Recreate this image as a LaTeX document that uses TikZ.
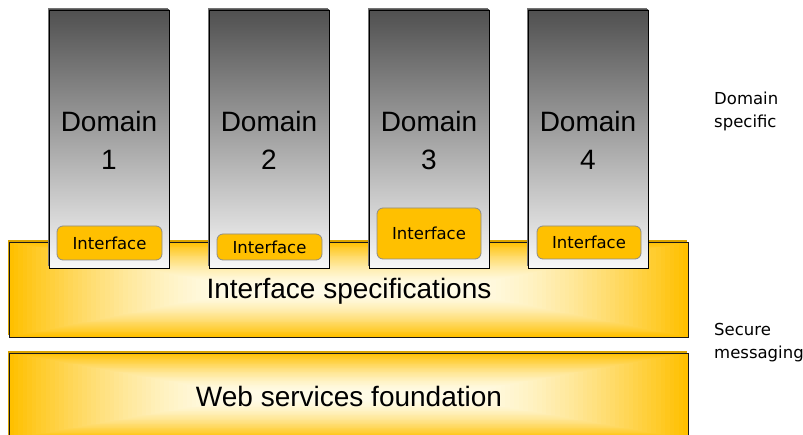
\documentclass[tikz,border=0pt]{standalone}
\usepackage{fontspec}
\setmainfont{Liberation Sans}
\newfontfamily\verd{DejaVu Sans}
\definecolor{gold}{HTML}{FFC000}
\definecolor{goldlight}{HTML}{FFFBE6}
\definecolor{goldshadow}{HTML}{D9A300}
\definecolor{coltop}{HTML}{505050}
\definecolor{colbot}{HTML}{F8F8F8}
\newcommand{\layergrad}[4]{%
  \foreach \k in {0,...,48}{%
    \pgfmathsetmacro{\tt}{\k/48}%
    \pgfmathsetmacro{\hw}{#3-\tt*(#3-120)}%
    \pgfmathsetmacro{\hh}{#4-\tt*(#4-4)}%
    \pgfmathsetmacro{\pp}{100*(1-\tt)^1.5}%
    \fill[gold!\pp!goldlight] (#1-\hw,#2-\hh) rectangle (#1+\hw,#2+\hh);
  }}
\tikzset{
  colbox/.style={draw=black, line width=0.8pt, inner sep=0pt, minimum width=120pt, minimum height=258pt,
    top color=coltop, bottom color=colbot},
  colshadow/.style={fill=black!55, draw=none, inner sep=0pt, minimum width=120pt, minimum height=258pt},
  layerbox/.style={draw=black!90, line width=0.8pt, inner sep=0pt, minimum width=679pt},
  layershadow/.style={fill=goldshadow, draw=none, inner sep=0pt, minimum width=679pt},
  ifbox/.style={draw=black!45, line width=0.8pt, fill=gold, rounded corners=6pt, inner sep=0pt,
    font=\verd\fontsize{16.5}{19}\selectfont},
  domlabel/.style={font=\fontsize{28}{38}\selectfont, align=center, text=black},
  biglabel/.style={font=\fontsize{28}{30}\selectfont, text=black},
  sidelabel/.style={font=\verd\fontsize{16.5}{23}\selectfont, align=left, anchor=west, inner sep=0pt}
}
\begin{document}
\begin{tikzpicture}[x=1pt,y=-1pt]
\useasboundingbox (0,0) rectangle (803,435);
% layers
\node[layershadow, minimum height=95pt] (specsh) at (347,288) {};
\layergrad{348.5}{289.5}{339.5}{47.5}
\node[layerbox, minimum height=95pt] (spec) at (348.5,289.5) {};
\node[layershadow, minimum height=86pt] (websh) at (347,394.5) {};
\layergrad{348.5}{396}{339.5}{43}
\node[layerbox, minimum height=86pt] (web) at (348.5,396) {};
% domain columns
\foreach \i/\x in {1/109,2/269,3/429,4/588}{
  \node[colshadow] (s\i) at (\x-1.5,139-1.5) {};
  \node[colbox] (d\i) at (\x,139) {};
  \node[domlabel] (t\i) at (\x,140) {Domain\\\i};
}
% interfaces
\node[ifbox, minimum width=105pt, minimum height=34pt] (i1) at (109.5,243) {Interface};
\node[ifbox, minimum width=105pt, minimum height=26pt] (i2) at (269.5,247) {Interface};
\node[ifbox, minimum width=104pt, minimum height=51pt] (i3) at (429,233.5) {Interface};
\node[ifbox, minimum width=104pt, minimum height=33pt] (i4) at (589,242.5) {Interface};
% layer labels
\node[biglabel] (specl) at (349,291) {Interface specifications};
\node[biglabel] (webl) at (349,396) {Web services foundation};
% side labels
\node[sidelabel] (ds) at (714,111.5) {Domain\\specific};
\node[sidelabel] (sm) at (714,343) {Secure\\messaging};
\end{tikzpicture}
\end{document}
